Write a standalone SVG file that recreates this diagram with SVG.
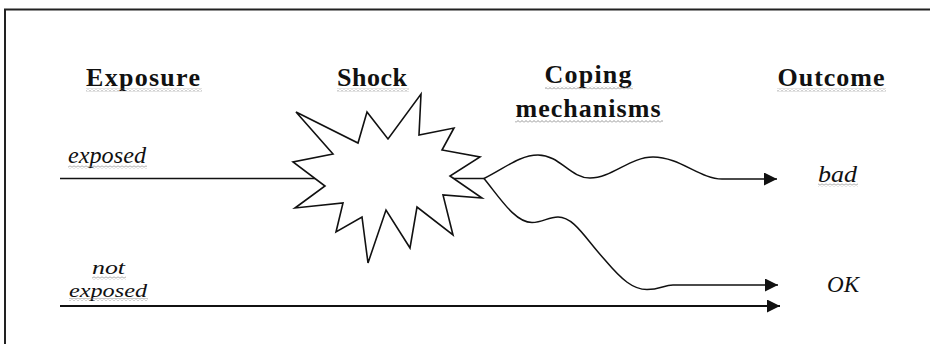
<svg xmlns="http://www.w3.org/2000/svg" width="930" height="344" viewBox="0 0 930 344">
  <style>
    .bg { fill: #ffffff; }
    .frame { fill: none; stroke: #222; stroke-width: 2; }
    .head { font-family: "Liberation Serif", "Times New Roman", serif; font-weight: bold; font-size: 26px; fill: #111; text-anchor: middle; }
    .lab { font-family: "Liberation Serif", "Times New Roman", serif; font-style: italic; font-size: 23px; fill: #111; }
    .lab-s { font-size: 19.5px; }
    .sq { fill: url(#squig); }
    .line { fill: none; stroke: #111; stroke-width: 1.5; }
    .thick { fill: none; stroke: #111; stroke-width: 2; }
    .star { fill: #ffffff; stroke: #111; stroke-width: 1.6; stroke-linejoin: miter; }
  </style>
  <defs>
    <pattern id="squig" x="0" y="0" width="4" height="3" patternUnits="userSpaceOnUse">
      <path d="M0,2.5 L2,0.5 L4,2.5" fill="none" stroke="#8a8a8a" stroke-width="0.9"/>
    </pattern>
    <marker id="arrow" markerUnits="userSpaceOnUse" markerWidth="14" markerHeight="14" refX="13" refY="6.5" orient="auto">
      <path d="M0,0 L13,6.5 L0,13 Z" fill="#111"/>
    </marker>
  </defs>

  <rect class="bg" x="0" y="0" width="930" height="344"/>
  <rect class="frame" x="5" y="9.5" width="935" height="345"/>

  <!-- column headings -->
  <g id="heading-exposure">
    <text class="head" x="143" y="86" textLength="114" lengthAdjust="spacing">Exposure</text>
    <rect class="sq" x="86" y="88.5" width="116" height="3"/>
  </g>
  <g id="heading-shock">
    <text class="head" x="372" y="86" textLength="70" lengthAdjust="spacing">Shock</text>
    <rect class="sq" x="337" y="88.5" width="72" height="3"/>
  </g>
  <g id="heading-coping">
    <text class="head" x="588" y="83" textLength="87" lengthAdjust="spacing">Coping</text>
    <text class="head" x="588" y="117" textLength="145" lengthAdjust="spacing">mechanisms</text>
    <rect class="sq" x="545" y="86.5" width="88" height="3"/>
    <rect class="sq" x="515" y="120" width="148" height="3"/>
  </g>
  <g id="heading-outcome">
    <text class="head" x="831" y="86" textLength="107" lengthAdjust="spacing">Outcome</text>
    <rect class="sq" x="777" y="88.5" width="109" height="3"/>
  </g>

  <!-- row labels -->
  <g id="label-exposed">
    <text class="lab" x="68" y="163" textLength="78" lengthAdjust="spacingAndGlyphs">exposed</text>
    <rect class="sq" x="68" y="165.5" width="79" height="3"/>
  </g>
  <g id="label-not-exposed">
    <text class="lab lab-s" x="92" y="274" textLength="33" lengthAdjust="spacingAndGlyphs">not</text>
    <text class="lab lab-s" x="69" y="297" textLength="78" lengthAdjust="spacingAndGlyphs">exposed</text>
    <rect class="sq" x="92" y="276.5" width="34" height="3"/>
    <rect class="sq" x="69" y="298" width="79" height="3"/>
  </g>
  <g id="outcome-bad">
    <text class="lab" x="818" y="182" textLength="39" lengthAdjust="spacingAndGlyphs">bad</text>
    <rect class="sq" x="818" y="183.5" width="40" height="3"/>
  </g>
  <g id="outcome-ok">
    <text class="lab" x="827" y="292" textLength="32" lengthAdjust="spacingAndGlyphs">OK</text>
  </g>

  <!-- connectors -->
  <g id="connectors">
    <path class="line" d="M60,178.5 L320,178.5"/>
    <path class="line" d="M448,178.5 L484,178.5"/>
    <path class="line" marker-end="url(#arrow)" d="M484,178.5 C505,168 520,155 538,155 C560,155 570,178 590,178 C612,178 630,157 653,157 C680,157 700,179 722,179 L777,179"/>
    <path class="line" marker-end="url(#arrow)" d="M484,178.5 C500,198 515,222.5 532,222.5 C543,222.5 548,217 558,217 C574,217 585,238 605,260 C622,280 633,289.5 647,289.5 C660,289.5 664,285 673,285 L778,285"/>
    <path class="thick" marker-end="url(#arrow)" d="M60,306 L780,306"/>
  </g>

  <!-- shock starburst -->
  <g id="shock">
    <polygon class="star" points="296,112 358,143 367,112 388,139 421,94 419,135 454,128 442,150 480,157 450,176 482,198 443,195 453,235 417,207 410,248 386,210 368,263 362,217 336,232 343,203 295,208 325,186 293,162 333,154"/>
  </g>
</svg>
